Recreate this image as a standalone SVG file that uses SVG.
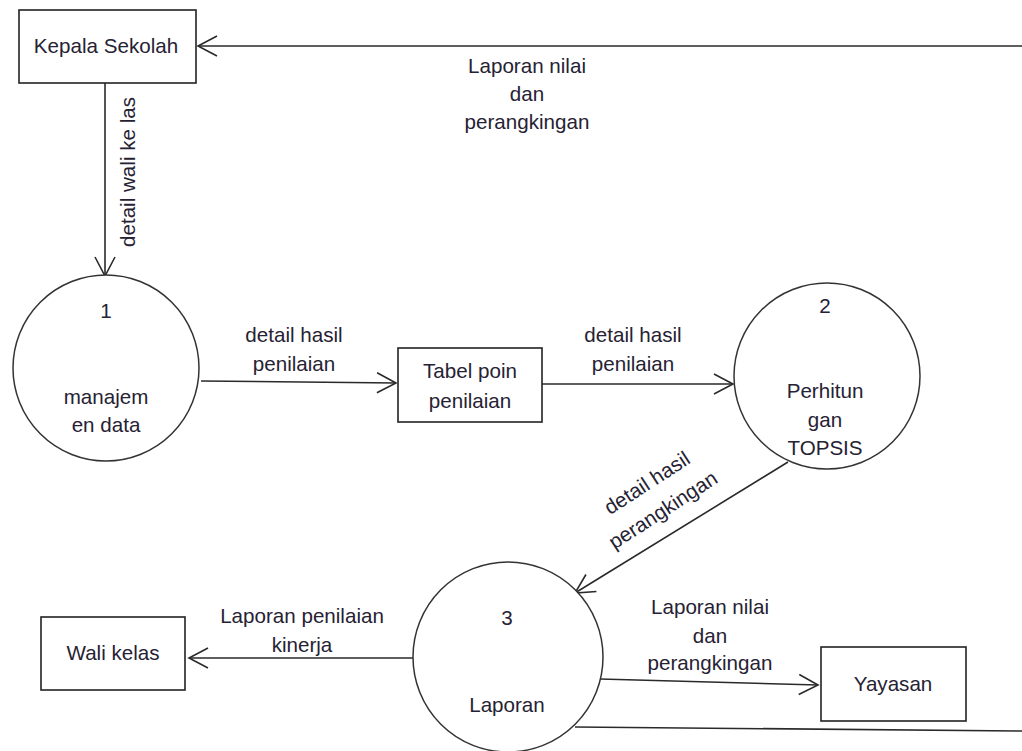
<svg xmlns="http://www.w3.org/2000/svg" width="1022" height="751" viewBox="0 0 1022 751">
  <style>
    .box { fill: #ffffff; stroke: #222; stroke-width: 1.6; }
    .proc { fill: #ffffff; stroke: #333; stroke-width: 1.5; }
    .flow { fill: none; stroke: #2a2a2a; stroke-width: 1.6; }
    .t { font-family: "Liberation Sans", Arial, sans-serif; font-size: 20.6px; fill: #262233; text-anchor: middle; }
  </style>
  <defs>
    <marker id="arr" markerUnits="userSpaceOnUse" markerWidth="26" markerHeight="26" viewBox="-22 -13 26 26" refX="0" refY="0" orient="auto">
      <path d="M-19,-10 L0,0 L-19,10" fill="none" stroke="#2a2a2a" stroke-width="1.6"/>
    </marker>
  </defs>

  <rect width="1022" height="751" fill="#ffffff"/>

  <!-- data flows -->
  <g id="connectors">
    <line class="flow" x1="1022" y1="46" x2="198" y2="46" stroke="#555" stroke-width="2.2" marker-end="url(#arr)"/>
    <line class="flow" x1="105" y1="83" x2="105" y2="276" marker-end="url(#arr)"/>
    <line class="flow" x1="201" y1="381" x2="396" y2="383" marker-end="url(#arr)"/>
    <line class="flow" x1="542" y1="384" x2="733" y2="384" marker-end="url(#arr)"/>
    <line class="flow" x1="788" y1="462" x2="575" y2="593" marker-end="url(#arr)"/>
    <line class="flow" x1="413" y1="658" x2="189" y2="658" marker-end="url(#arr)"/>
    <line class="flow" x1="600" y1="679" x2="818" y2="685" marker-end="url(#arr)"/>
    <line class="flow" x1="575" y1="727" x2="1022" y2="731"/>

    <text class="t" transform="translate(128,172) rotate(-90)" y="7">detail wali ke las</text>
    <text class="t" x="527" y="73">Laporan nilai</text>
    <text class="t" x="527" y="101">dan</text>
    <text class="t" x="527" y="129">perangkingan</text>
    <text class="t" x="294" y="342">detail  hasil</text>
    <text class="t" x="294" y="371">penilaian</text>
    <text class="t" x="633" y="342">detail  hasil</text>
    <text class="t" x="633" y="371">penilaian</text>
    <text class="t" transform="translate(647,483) rotate(-33)" y="7">detail  hasil</text>
    <text class="t" transform="translate(663,510) rotate(-33)" y="7">perangkingan</text>
    <text class="t" x="302" y="623">Laporan penilaian</text>
    <text class="t" x="302" y="652">kinerja</text>
    <text class="t" x="710" y="614">Laporan nilai</text>
    <text class="t" x="710" y="643">dan</text>
    <text class="t" x="710" y="670">perangkingan</text>
  </g>

  <g id="kepala-sekolah">
    <rect class="box" x="19" y="10" width="177" height="73"/>
    <text class="t" x="106" y="53">Kepala Sekolah</text>
  </g>

  <g id="proses-1">
    <circle class="proc" cx="106" cy="368" r="93"/>
    <text class="t" x="106" y="318">1</text>
    <text class="t" x="106" y="404">manajem</text>
    <text class="t" x="106" y="432">en data</text>
  </g>

  <g id="tabel-poin">
    <rect class="box" x="398" y="348" width="144" height="74"/>
    <text class="t" x="470" y="378">Tabel poin</text>
    <text class="t" x="470" y="408">penilaian</text>
  </g>

  <g id="proses-2">
    <circle class="proc" cx="827" cy="376" r="93"/>
    <text class="t" x="825" y="313">2</text>
    <text class="t" x="825" y="398">Perhitun</text>
    <text class="t" x="825" y="427">gan</text>
    <text class="t" x="825" y="455">TOPSIS</text>
  </g>

  <g id="proses-3">
    <circle class="proc" cx="508" cy="657" r="95"/>
    <text class="t" x="507" y="625">3</text>
    <text class="t" x="507" y="712">Laporan</text>
  </g>

  <g id="wali-kelas">
    <rect class="box" x="41" y="617" width="144" height="73"/>
    <text class="t" x="113" y="660">Wali kelas</text>
  </g>

  <g id="yayasan">
    <rect class="box" x="821" y="647" width="145" height="74"/>
    <text class="t" x="893" y="691">Yayasan</text>
  </g>
</svg>
